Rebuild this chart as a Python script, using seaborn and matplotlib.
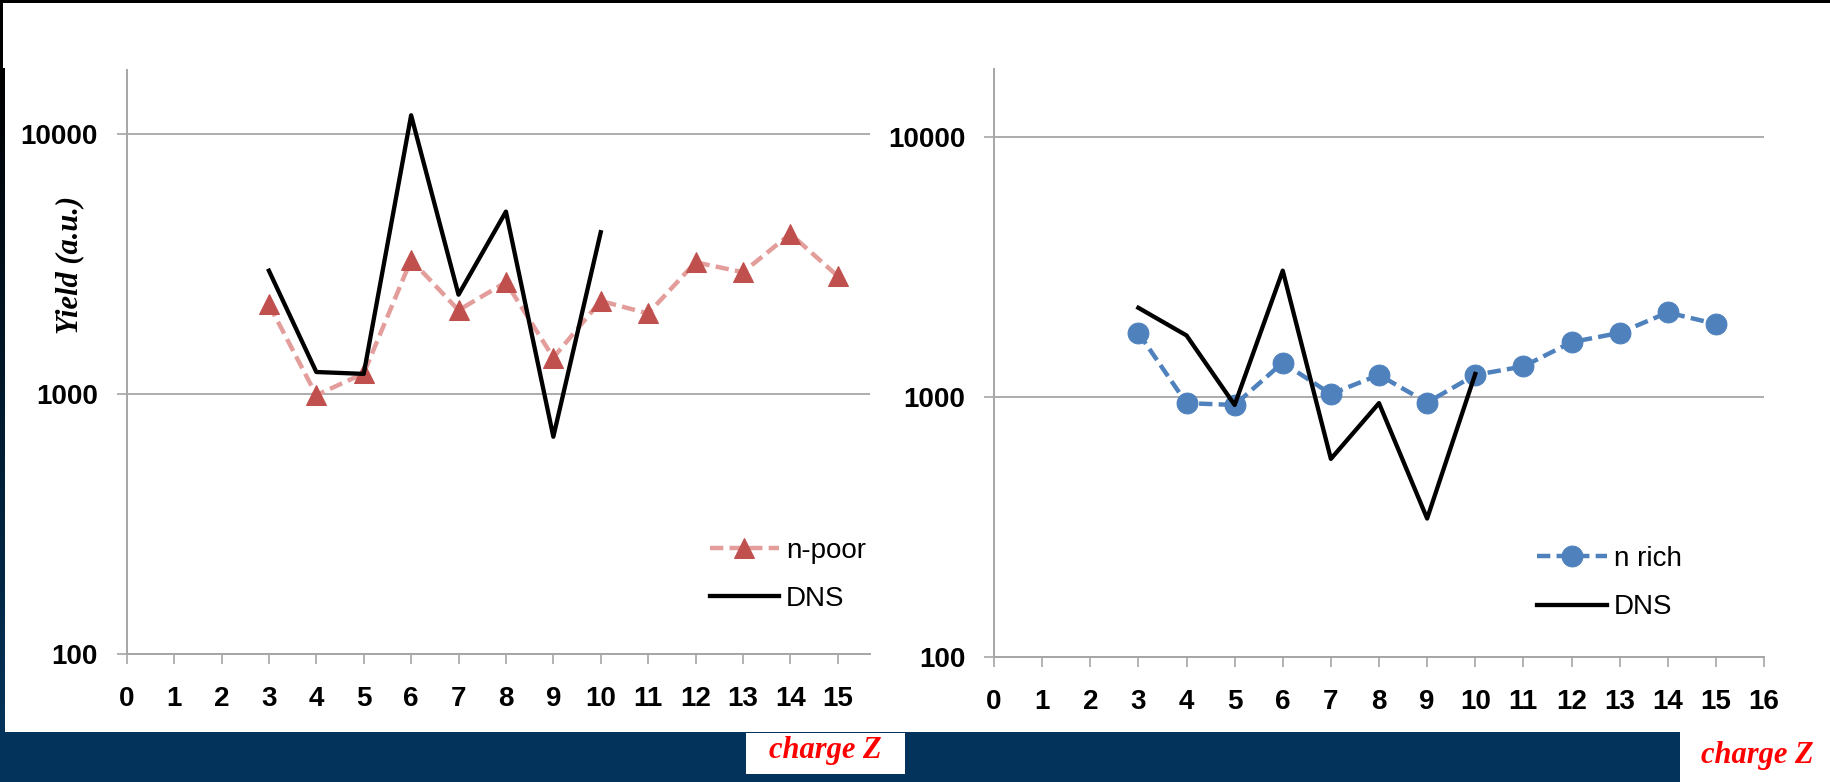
import numpy as np
import pandas as pd
import matplotlib
matplotlib.use("Agg")
import matplotlib.pyplot as plt
from matplotlib.patches import Rectangle
from matplotlib.ticker import NullLocator, FixedLocator, FixedFormatter
from matplotlib.colors import LinearSegmentedColormap
import seaborn as sns

# ---------------- data ----------------
z_series = [3, 4, 5, 6, 7, 8, 9, 10, 11, 12, 13, 14, 15]
n_poor = [2210, 990, 1200, 3280, 2100, 2690, 1380, 2280, 2040, 3210, 2940, 4130, 2840]
z_dns = [3, 4, 5, 6, 7, 8, 9, 10]
dns_left = [2980, 1215, 1195, 11800, 2410, 5030, 685, 4190]
n_rich = [1770, 950, 935, 1360, 1030, 1220, 955, 1220, 1315, 1630, 1770, 2120, 1915]
dns_right = [2210, 1730, 935, 3070, 580, 950, 342, 1230]
x_ticks_left = list(range(0, 16))
x_ticks_right = list(range(0, 17))
y_ticks = [100, 1000, 10000]
y_tick_labels = ["100", "1000", "10000"]
label_poor = "n-poor"
label_rich = "n rich"
label_dns = "DNS"
y_title = "Yield (a.u.)"
x_title = "charge Z"

W, H = 1831, 782
fig = plt.figure(figsize=(W / 100, H / 100), dpi=100)
fig.patch.set_facecolor("white")

NAVY = "#03335A"
GRAY = "#A6A6A6"
SANS = ["Liberation Sans", "DejaVu Sans"]
SERIF = ["Liberation Serif", "DejaVu Serif"]


def rect(x0, y0, x1, y1, color):
    fig.patches.append(Rectangle((x0 / W, 1 - y1 / H), (x1 - x0) / W, (y1 - y0) / H,
                                 transform=fig.transFigure, facecolor=color,
                                 edgecolor="none", zorder=0))


# decorative frame
rect(0, 0, W, 3, "black")
rect(0, 0, 3, 70, "black")
rect(0, 732, 1680, H, NAVY)
rect(746, 732.7, 905, 774, "white")
grad_ax = fig.add_axes([0, 1 - 732 / H, 5 / W, (732 - 68) / H])
grad = np.linspace(0, 1, 256).reshape(-1, 1)
cm = LinearSegmentedColormap.from_list("g", ["black", NAVY])
grad_ax.imshow(grad, aspect="auto", cmap=cm)
grad_ax.set_axis_off()


def px_axes(x0, x1, ytop, ybot):
    return fig.add_axes([x0 / W, 1 - ybot / H, (x1 - x0) / W, (ybot - ytop) / H])


axL = px_axes(126.7, 870, 70, 654)
axR = px_axes(994, 1764, 69.3, 657.4)

# ---------------- series ----------------
poor_line = "#E39E9C"
poor_mark = "#C0504D"
blue = "#4F81BD"

sns.lineplot(x=z_series, y=n_poor, ax=axL, color=poor_line, lw=3.2,
             linestyle=(0, (3, 1.4)), marker="^", markersize=15,
             markerfacecolor=poor_mark, markeredgecolor=poor_mark,
             label=label_poor, legend=False)
sns.lineplot(x=z_dns, y=dns_left, ax=axL, color="black", lw=3.1,
             label=label_dns, legend=False)

sns.lineplot(x=z_series, y=n_rich, ax=axR, color=blue, lw=3.2,
             linestyle=(0, (3, 1.4)), marker="o", markersize=15,
             markerfacecolor=blue, markeredgecolor=blue,
             label=label_rich, legend=False)
sns.lineplot(x=z_dns, y=dns_right, ax=axR, color="black", lw=3.1,
             label=label_dns, legend=False)


def style_axes(ax, xt, xmax, ytop_log):
    ax.set_yscale("log")
    ax.set_ylim(100, 10 ** ytop_log)
    ax.set_xlim(0, xmax)
    ax.yaxis.set_major_locator(FixedLocator(y_ticks))
    ax.yaxis.set_major_formatter(FixedFormatter(y_tick_labels))
    ax.yaxis.set_minor_locator(NullLocator())
    ax.set_xticks(xt)
    ax.set_xticklabels([str(v) for v in xt])
    ax.set_facecolor("none")
    for s in ["top", "right"]:
        ax.spines[s].set_visible(False)
    for s in ["left", "bottom"]:
        ax.spines[s].set_color(GRAY)
        ax.spines[s].set_linewidth(1.4)
    ax.grid(axis="y", color=GRAY, lw=1.3)
    ax.grid(axis="x", visible=False)
    ax.set_axisbelow(True)
    ax.tick_params(axis="both", direction="out", length=7.3, width=1.2, color=GRAY)
    ax.tick_params(axis="x", pad=15.5)
    ax.tick_params(axis="y", pad=13.3)
    for lab in ax.get_xticklabels() + ax.get_yticklabels():
        lab.set_family(SANS)
        lab.set_fontsize(20)
        lab.set_fontweight("bold")
    ax.set_xlabel("")
    ax.set_ylabel("")


style_axes(axL, x_ticks_left, 15.68, 2 + 584 / 260)
style_axes(axR, x_ticks_right, 16, 2 + 588.1 / 260.05)


def legend(ax, x_left, y_top, hl):
    leg = ax.legend(loc="upper left", bbox_to_anchor=(x_left / W, 1 - y_top / H),
                    bbox_transform=fig.transFigure, frameon=False, borderpad=0,
                    borderaxespad=0, handlelength=hl, handletextpad=0.25,
                    labelspacing=0.8, prop={"family": SANS, "size": 20})
    return leg


legend(axL, 710, 537.5, 2.48)
legend(axR, 1536.7, 546, 2.54)

# texts
fig.text(70 / W, 1 - 265 / H, y_title, rotation=90, ha="center", va="center",
         family=SERIF, fontsize=22, fontweight="bold", fontstyle="italic")
fig.text(825 / W, 1 - 758 / H, x_title, ha="center", va="baseline", color="red",
         family=SERIF, fontsize=22, fontweight="bold", fontstyle="italic")
fig.text(1757 / W, 1 - 763 / H, x_title, ha="center", va="baseline", color="red",
         family=SERIF, fontsize=22, fontweight="bold", fontstyle="italic")

fig.savefig("out.png", dpi=100)
